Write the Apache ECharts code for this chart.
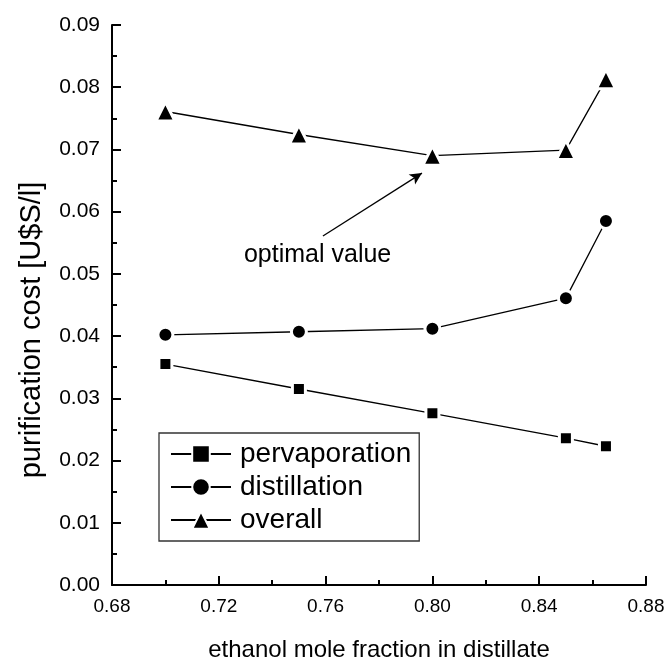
<!DOCTYPE html>
<html>
<head>
<meta charset="utf-8">
<script src="https://cdn.jsdelivr.net/npm/echarts@6/dist/echarts.min.js"></script>
<style>
  html, body { margin: 0; padding: 0; background: #fff; }
  #chart { width: 670px; height: 662px; }
</style>
</head>
<body>
<div id="chart"></div>
<script>
// ethanol mole fraction in distillate
var fractions = [0.70, 0.75, 0.80, 0.85, 0.865];
var pervaporation = [0.0355, 0.0315, 0.0276, 0.0236, 0.0223];
var distillation = [0.0402, 0.0407, 0.0412, 0.0461, 0.0585];
var overall = [0.0761, 0.0724, 0.0690, 0.0699, 0.0813];

// annotation: arrow from label to the optimum
var arrowFrom = [0.759, 0.0561];
var arrowTo = [0.7961, 0.0662];
var noteAt = [0.757, 0.0530];

function pairs(xs, ys) {
    return xs.map(function (x, i) { return [x, ys[i]]; });
}

var font = 'Liberation Sans, Arial, sans-serif';

function makeSeries(name, symbol, size, values) {
    return {
        name: name,
        type: 'line',
        data: pairs(fractions, values),
        symbol: symbol,
        symbolSize: size,
        showAllSymbol: true,
        lineStyle: { color: '#000', width: 1.3 },
        itemStyle: { color: '#000', borderColor: '#fff', borderWidth: 3 },
        emphasis: { disabled: true },
        animation: false,
        z: 3
    };
}

var chart = echarts.init(document.getElementById('chart'));

var series = [
    makeSeries('pervaporation', 'rect', 13, pervaporation),
    makeSeries('distillation', 'circle', 15, distillation),
    makeSeries('overall', 'triangle', 19, overall)
];

series[2].markLine = {
    silent: true,
    symbol: ['none', 'arrow'],
    symbolSize: [9, 12],
    lineStyle: { color: '#000', width: 1.3, type: 'solid' },
    label: { show: false },
    data: [[{ coord: arrowFrom }, { coord: arrowTo }]]
};
series[2].markPoint = {
    silent: true,
    symbol: 'circle',
    symbolSize: 0,
    label: {
        show: true,
        formatter: 'optimal value',
        color: '#000',
        fontFamily: font,
        fontSize: 25,
        position: 'inside'
    },
    data: [{ coord: noteAt }]
};

var option = {
    backgroundColor: '#fff',
    animation: false,
    grid: { left: 112, right: 24, top: 25, bottom: 77, containLabel: false, outerBoundsMode: 'none' },
    legend: {
        orient: 'vertical',
        left: 159,
        top: 433,
        padding: [7, 8, 7, 11],
        itemGap: 5,
        itemWidth: 60,
        itemHeight: 22,
        borderColor: '#333',
        borderWidth: 1.3,
        textStyle: { color: '#000', fontFamily: font, fontSize: 28, padding: [0, 0, 0, 4] },
        data: ['pervaporation', 'distillation', 'overall']
    },
    xAxis: {
        type: 'value',
        min: 0.68,
        max: 0.88,
        interval: 0.04,
        name: 'ethanol mole fraction in distillate',
        nameLocation: 'middle',
        nameGap: 53,
        nameTextStyle: { color: '#000', fontFamily: font, fontSize: 24 },
        axisLine: { lineStyle: { color: '#000', width: 2 } },
        axisTick: { inside: true, length: 9, lineStyle: { color: '#000', width: 2 } },
        minorTick: { show: true, splitNumber: 2, length: 5, lineStyle: { color: '#000', width: 2 } },
        axisLabel: {
            color: '#000', fontFamily: font, fontSize: 19, margin: 12,
            formatter: function (v) { return v.toFixed(2); }
        },
        splitLine: { show: false }
    },
    yAxis: {
        type: 'value',
        min: 0,
        max: 0.09,
        interval: 0.01,
        name: 'purification cost [U$S/l]',
        nameLocation: 'middle',
        nameGap: 66,
        nameTextStyle: { color: '#000', fontFamily: font, fontSize: 29, padding: [0, 50, 0, 0] },
        axisLine: { lineStyle: { color: '#000', width: 2 } },
        axisTick: { inside: true, length: 9, lineStyle: { color: '#000', width: 2 } },
        minorTick: { show: true, splitNumber: 2, length: 5, lineStyle: { color: '#000', width: 2 } },
        axisLabel: {
            color: '#000', fontFamily: font, fontSize: 21, margin: 12,
            formatter: function (v) { return v.toFixed(2); }
        },
        splitLine: { show: false }
    },
    series: series
};

chart.setOption(option);
</script>
</body>
</html>
